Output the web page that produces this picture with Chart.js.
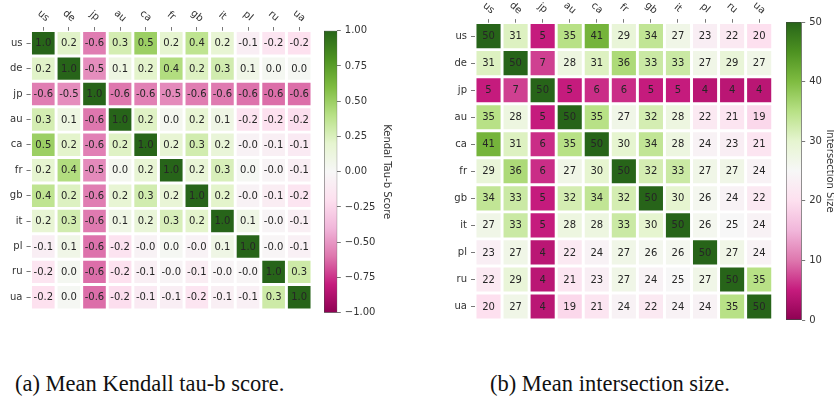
<!DOCTYPE html>
<html>
<head>
<meta charset="utf-8">
<script src="https://cdn.jsdelivr.net/npm/chart.js@4.4.0/dist/chart.umd.min.js"></script>
<style>
  html, body { margin: 0; padding: 0; background: #ffffff; overflow: hidden; width: 834px; height: 414px; }
  canvas { position: absolute; }
  .caption { position: absolute; font-family: "Liberation Serif", serif; font-size: 22.5px; line-height: 1; color: #111; white-space: nowrap; }
</style>
</head>
<body>
<canvas id="tauMap" width="320" height="320" style="left:0px;top:0px"></canvas>
<canvas id="tauBar" width="100" height="330" style="left:315px;top:0px"></canvas>
<canvas id="sizeMap" width="340" height="330" style="left:440px;top:0px"></canvas>
<canvas id="sizeBar" width="70" height="330" style="left:775px;top:0px"></canvas>
<div class="caption" style="left:15px;top:373px">(a) Mean Kendall tau-b score.</div>
<div class="caption" style="left:490px;top:373px">(b) Mean intersection size.</div>
<script>
// Country codes used for both rows and columns
const countries = ['us', 'de', 'jp', 'au', 'ca', 'fr', 'gb', 'it', 'pl', 'ru', 'ua'];

// Mean Kendall tau-b score between country rankings
const tauScores = [
  [ 1.00,  0.22, -0.58,  0.28,  0.50,  0.20,  0.37,  0.18, -0.08, -0.16, -0.19],
  [ 0.22,  1.00, -0.53,  0.11,  0.21,  0.42,  0.24,  0.29,  0.08,  0.03,  0.02],
  [-0.58, -0.53,  1.00, -0.60, -0.57, -0.54, -0.58, -0.59, -0.61, -0.62, -0.62],
  [ 0.28,  0.11, -0.60,  1.00,  0.23,  0.04,  0.18,  0.09, -0.17, -0.19, -0.21],
  [ 0.50,  0.21, -0.57,  0.23,  1.00,  0.18,  0.29,  0.16, -0.04, -0.07, -0.11],
  [ 0.20,  0.42, -0.54,  0.04,  0.18,  1.00,  0.17,  0.26,  0.02, -0.03, -0.08],
  [ 0.37,  0.24, -0.58,  0.18,  0.29,  0.17,  1.00,  0.21, -0.04, -0.09, -0.16],
  [ 0.18,  0.29, -0.59,  0.09,  0.16,  0.26,  0.21,  1.00,  0.09, -0.03, -0.07],
  [-0.08,  0.08, -0.61, -0.17, -0.04,  0.02, -0.04,  0.09,  1.00, -0.02, -0.06],
  [-0.16,  0.03, -0.62, -0.19, -0.07, -0.03, -0.09, -0.03, -0.02,  1.00,  0.31],
  [-0.19,  0.02, -0.62, -0.21, -0.11, -0.08, -0.16, -0.07, -0.06,  0.31,  1.00]
];

// Mean intersection size of the top-50 lists
const intersectionSizes = [
  [50, 31,  5, 35, 41, 29, 34, 27, 23, 22, 20],
  [31, 50,  7, 28, 31, 36, 33, 33, 27, 29, 27],
  [ 5,  7, 50,  5,  6,  6,  5,  5,  4,  4,  4],
  [35, 28,  5, 50, 35, 27, 32, 28, 22, 21, 19],
  [41, 31,  6, 35, 50, 30, 34, 28, 24, 23, 21],
  [29, 36,  6, 27, 30, 50, 32, 33, 27, 27, 24],
  [34, 33,  5, 32, 34, 32, 50, 30, 26, 24, 22],
  [27, 33,  5, 28, 28, 33, 30, 50, 26, 25, 24],
  [23, 27,  4, 22, 24, 27, 26, 26, 50, 27, 24],
  [22, 29,  4, 21, 23, 27, 24, 25, 27, 50, 35],
  [20, 27,  4, 19, 21, 24, 22, 24, 24, 35, 50]
];

// Colour bar ranges and ticks
const tauRange = [-1, 1];
const tauTicks = [-1, -0.75, -0.5, -0.25, 0, 0.25, 0.5, 0.75, 1];
const sizeRange = [0, 50];
const sizeTicks = [0, 10, 20, 30, 40, 50];

// Pink-to-green diverging palette (ColorBrewer PiYG, 11 anchors)
const PIYG = [
  [142, 1, 82], [197, 27, 125], [222, 119, 174], [241, 182, 218], [253, 224, 239],
  [247, 247, 247], [230, 245, 208], [184, 225, 134], [127, 188, 65], [77, 146, 33], [39, 100, 25]
];
function piyg(t) {
  t = Math.max(0, Math.min(1, t));
  const p = t * 10;
  const i = Math.min(9, Math.floor(p));
  const f = p - i;
  const a = PIYG[i], b = PIYG[i + 1];
  const c = a.map((v, k) => Math.round(v + (b[k] - v) * f));
  return `rgb(${c[0]},${c[1]},${c[2]})`;
}

const FONT = '"DejaVu Sans", sans-serif';
const TEXT = '#333333';
const TICK = '#555555';

// Writes each cell's value in its centre
function cellTextPlugin(fmt) {
  return {
    id: 'cellText',
    afterDatasetsDraw(chart) {
      const ctx = chart.ctx;
      ctx.save();
      ctx.font = `10px ${FONT}`;
      ctx.fillStyle = '#262626';
      ctx.textAlign = 'center';
      ctx.textBaseline = 'middle';
      chart.data.datasets.forEach((ds, di) => {
        chart.getDatasetMeta(di).data.forEach((bar, i) => {
          const p = bar.getProps(['x', 'y', 'base'], true);
          ctx.fillText(fmt(ds.data[i].v), p.x, (p.y + p.base) / 2 + 0.5);
        });
      });
      ctx.restore();
    }
  };
}

// Slanted column names above the top axis
function columnNamesPlugin(lift) {
  return {
    id: 'columnNames',
    afterDraw(chart) {
      const ctx = chart.ctx;
      const xs = chart.scales.x;
      ctx.save();
      ctx.font = `10px ${FONT}`;
      ctx.fillStyle = TEXT;
      ctx.textAlign = 'center';
      ctx.textBaseline = 'middle';
      countries.forEach((name, i) => {
        ctx.save();
        ctx.translate(xs.getPixelForValue(i), chart.chartArea.top - lift);
        ctx.rotate(40 * Math.PI / 180);
        ctx.fillText(name, 0, 0);
        ctx.restore();
      });
      ctx.restore();
    }
  };
}

function heatmap(id, matrix, range, fmt, box) {
  const [vmin, vmax] = range;
  const datasets = matrix.map((row, r) => ({
    data: row.map((v, c) => ({ x: countries[c], y: [r - 0.5, r + 0.5], v })),
    backgroundColor: ctx => piyg((ctx.raw.v - vmin) / (vmax - vmin)),
    borderColor: '#ffffff',
    borderWidth: box.gap,
    borderSkipped: false,
    barPercentage: 1,
    categoryPercentage: 1,
    grouped: false
  }));
  return new Chart(document.getElementById(id), {
    type: 'bar',
    data: { labels: countries, datasets },
    options: {
      responsive: false,
      animation: false,
      events: [],
      layout: { padding: { left: 0, top: 0, right: box.padRight, bottom: box.padBottom } },
      plugins: { legend: { display: false }, tooltip: { enabled: false } },
      scales: {
        x: {
          type: 'category',
          position: 'top',
          offset: true,
          ticks: { display: false },
          grid: { drawOnChartArea: false, offset: false, tickLength: 3.5, color: TICK, lineWidth: 0.8 },
          border: { display: false },
          afterFit: s => { s.height = box.top; }
        },
        y: {
          type: 'linear',
          min: -0.5,
          max: 10.5,
          reverse: true,
          afterBuildTicks: s => { s.ticks = countries.map((_, i) => ({ value: i })); },
          ticks: { callback: v => countries[v], font: { family: FONT, size: 10 }, color: TEXT, padding: 4, autoSkip: false },
          grid: { drawOnChartArea: false, tickLength: 4, color: TICK, lineWidth: 0.8 },
          border: { display: false },
          afterFit: s => { s.width = box.left; }
        }
      }
    },
    plugins: [cellTextPlugin(fmt), columnNamesPlugin(14.5)]
  });
}

function colorbar(id, range, ticks, fmt, title, box) {
  const [vmin, vmax] = range;
  return new Chart(document.getElementById(id), {
    type: 'bar',
    data: {
      labels: [''],
      datasets: [{
        data: [[vmin, vmax]],
        backgroundColor: ctx => {
          const chart = ctx.chart;
          if (!chart.chartArea) return '#ffffff';
          const ys = chart.scales.y;
          const g = chart.ctx.createLinearGradient(0, ys.getPixelForValue(vmin), 0, ys.getPixelForValue(vmax));
          PIYG.forEach((c, i) => g.addColorStop(i / (PIYG.length - 1), `rgb(${c[0]},${c[1]},${c[2]})`));
          return g;
        },
        borderColor: '#444444',
        borderWidth: 0.8,
        borderSkipped: false,
        barPercentage: 1,
        categoryPercentage: 1
      }]
    },
    options: {
      responsive: false,
      animation: false,
      events: [],
      layout: { padding: box.pad },
      plugins: { legend: { display: false }, tooltip: { enabled: false } },
      scales: {
        x: { display: false },
        y: {
          position: 'right',
          min: vmin,
          max: vmax,
          afterBuildTicks: s => { s.ticks = ticks.map(v => ({ value: v })); },
          ticks: { callback: fmt, font: { family: FONT, size: 10 }, color: TEXT, padding: 4, autoSkip: false },
          grid: { drawOnChartArea: false, tickLength: 3.5, color: TICK, lineWidth: 0.8 },
          border: { display: false },
          title: { display: true, text: title, font: { family: FONT, size: 10 }, color: TEXT, padding: 0 },
          afterFit: s => { s.width = box.axisWidth; }
        }
      }
    }
  });
}

heatmap('tauMap', tauScores, tauRange, v => v.toFixed(1),
  { left: 30.5, top: 30.5, padRight: 8, padBottom: 8.8, gap: 1.8 });
colorbar('tauBar', tauRange, tauTicks,
  v => (v < 0 ? '\u2212' : '') + Math.abs(v).toFixed(2), 'Kendal Tau-b Score',
  { pad: { left: 9, right: 22.3, top: 30.7, bottom: 17.3 }, axisWidth: 55.4 });

heatmap('sizeMap', intersectionSizes, sizeRange, v => String(v),
  { left: 35, top: 22.6, padRight: 7.3, padBottom: 10, gap: 1.8 });
colorbar('sizeBar', sizeRange, sizeTicks, v => String(v), 'Intersection Size',
  { pad: { left: 11, right: 9, top: 22, bottom: 9 }, axisWidth: 34.3 });
</script>
</body>
</html>
